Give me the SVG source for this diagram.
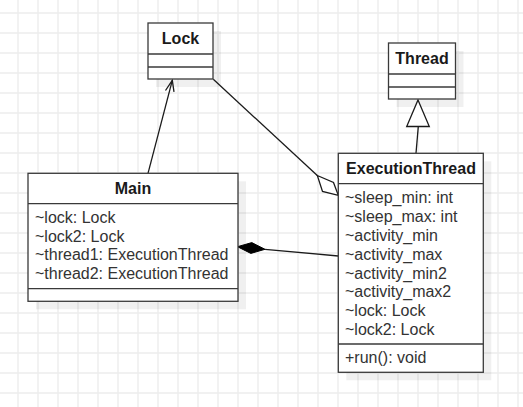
<svg xmlns="http://www.w3.org/2000/svg" width="523" height="407" viewBox="0 0 523 407">
  <defs>
    <pattern id="grid" x="8" y="3" width="20" height="20" patternUnits="userSpaceOnUse">
      <path d="M10 0V20M0 10H20" stroke="#ededed" stroke-width="1.4" fill="none"/>
    </pattern>
    <style>
      .box { fill: #ffffff; stroke: #3a3a3a; stroke-width: 1.3; }
      .shadow { fill: #000000; fill-opacity: 0.06; }
      .sep { stroke: #3a3a3a; stroke-width: 1.3; fill: none; }
      .title { font-family: "Liberation Sans", Arial, sans-serif; font-size: 16px; font-weight: bold; fill: #1a1a1a; text-anchor: middle; }
      .attr { font-family: "Liberation Sans", Arial, sans-serif; font-size: 16px; fill: #333333; }
      .edge { stroke: #1a1a1a; stroke-width: 1.3; fill: none; }
    </style>
  </defs>
  <rect width="523" height="407" fill="#ffffff"/>
  <rect width="523" height="407" fill="url(#grid)"/>

  <g id="shadows">
    <rect class="shadow" x="156" y="31" width="65" height="56"/>
    <rect class="shadow" x="396.5" y="51" width="67" height="56"/>
    <rect class="shadow" x="36" y="181.3" width="210" height="128"/>
    <rect class="shadow" x="346.3" y="161.3" width="145" height="219"/>
  </g>

  <g id="connectors">
    <!-- Main -> Lock (association, open arrow) -->
    <line class="edge" x1="148" y1="173.3" x2="172.3" y2="80.3"/>
    <polyline class="edge" points="165.5,90.5 172.3,80.3 174,91.8"/>
    <!-- Lock <>- ExecutionThread (aggregation) -->
    <line class="edge" x1="213.3" y1="79.3" x2="317.3" y2="175.5"/>
    <polygon class="edge" fill="#ffffff" style="fill:#ffffff" points="317.3,175.5 333.5,182.5 338.3,195.3 322.5,191.5"/>
    <!-- Main <#>- ExecutionThread (composition) -->
    <line class="edge" x1="265" y1="249.3" x2="338.3" y2="256"/>
    <polygon points="237.5,246.7 251.8,242.6 265,249.3 250.8,253.4" fill="#000000" stroke="#000000" stroke-width="1"/>
    <!-- ExecutionThread -> Thread (generalization) -->
    <line class="edge" x1="416" y1="153.3" x2="418.3" y2="126.5"/>
    <polygon class="edge" style="fill:#ffffff" points="418,100 429.3,126.5 406.7,126.5"/>
  </g>

  <g id="Lock">
    <rect class="box" x="148" y="23" width="65" height="56"/>
    <line class="sep" x1="148" y1="54" x2="213" y2="54"/>
    <line class="sep" x1="148" y1="67" x2="213" y2="67"/>
    <text class="title" x="180.5" y="44.3">Lock</text>
  </g>

  <g id="Thread">
    <rect class="box" x="388.5" y="43" width="67" height="56"/>
    <line class="sep" x1="388.5" y1="74" x2="455.5" y2="74"/>
    <line class="sep" x1="388.5" y1="87" x2="455.5" y2="87"/>
    <text class="title" x="422" y="64.2">Thread</text>
  </g>

  <g id="Main">
    <rect class="box" x="28" y="173.3" width="210" height="128"/>
    <line class="sep" x1="28" y1="203.7" x2="238" y2="203.7"/>
    <line class="sep" x1="28" y1="288.7" x2="238" y2="288.7"/>
    <text class="title" x="133" y="194.3">Main</text>
    <text class="attr" x="35" y="222.8">~lock: Lock</text>
    <text class="attr" x="35" y="241.6">~lock2: Lock</text>
    <text class="attr" x="35" y="260.4">~thread1: ExecutionThread</text>
    <text class="attr" x="35" y="279.2">~thread2: ExecutionThread</text>
  </g>

  <g id="ExecutionThread">
    <rect class="box" x="338.3" y="153.3" width="145" height="219"/>
    <line class="sep" x1="338.3" y1="183.7" x2="483.3" y2="183.7"/>
    <line class="sep" x1="338.3" y1="344" x2="483.3" y2="344"/>
    <text class="title" x="411" y="174.3">ExecutionThread</text>
    <text class="attr" x="345" y="203.4">~sleep_min: int</text>
    <text class="attr" x="345" y="222.2">~sleep_max: int</text>
    <text class="attr" x="345" y="241">~activity_min</text>
    <text class="attr" x="345" y="259.8">~activity_max</text>
    <text class="attr" x="345" y="278.6">~activity_min2</text>
    <text class="attr" x="345" y="297.4">~activity_max2</text>
    <text class="attr" x="345" y="316.2">~lock: Lock</text>
    <text class="attr" x="345" y="335">~lock2: Lock</text>
    <text class="attr" x="345" y="362.8">+run(): void</text>
  </g>
</svg>
